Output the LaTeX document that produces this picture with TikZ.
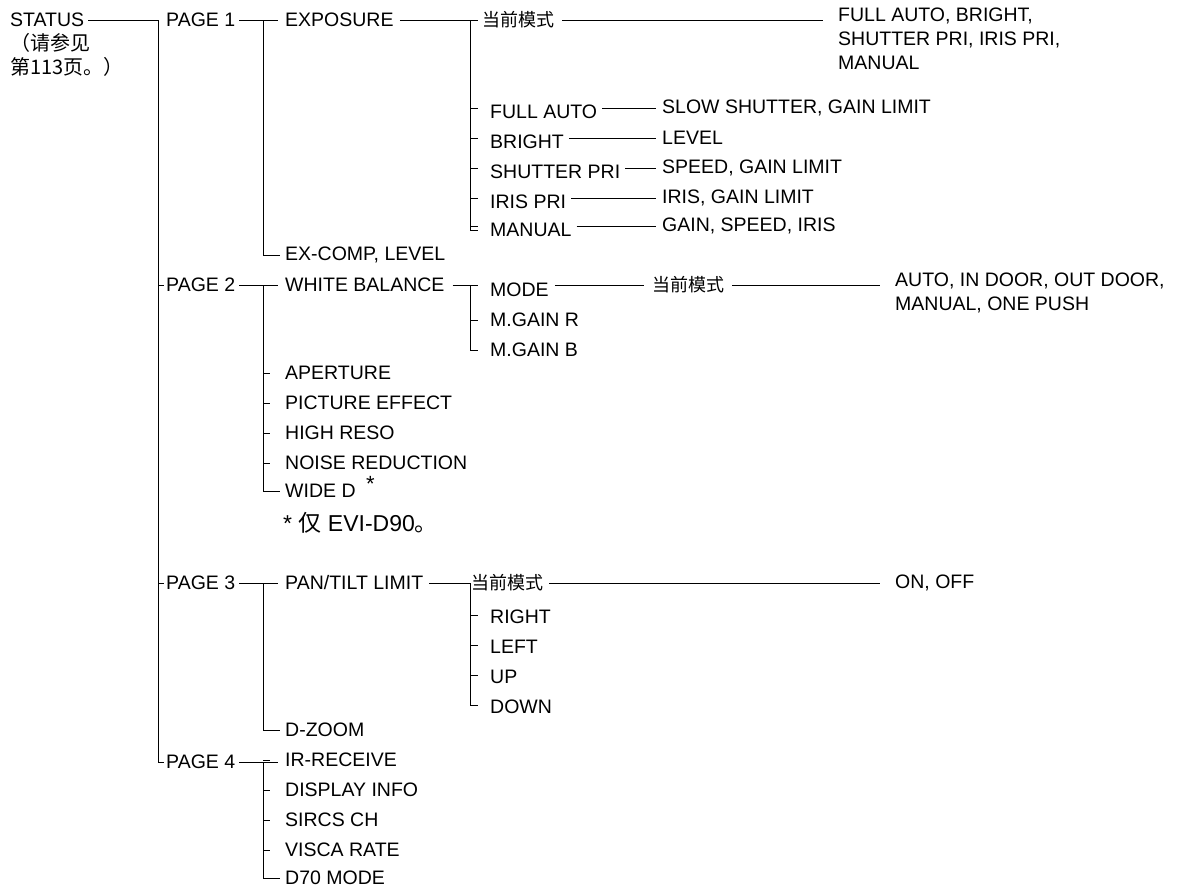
\documentclass[tikz,border=0pt]{standalone}
\usepackage{fontspec}
\setmainfont{Liberation Sans}
\newfontfamily\cjk{Noto Sans CJK SC}
\begin{document}
\begin{tikzpicture}[x=1pt,y=-1pt,
  t/.style={anchor=west,inner sep=0pt,font=\fontsize{19.5}{23}\selectfont},
  c/.style={anchor=west,inner sep=0pt,font=\cjk\fontsize{18}{22}\selectfont},
  ln/.style={line width=1pt}]
\useasboundingbox (0,0) rectangle (1181,892);
% column 0
\node[t] (status) at (10,20) {STATUS};
\node[c,align=left,anchor=north west,font=\cjk\fontsize{20}{24}\selectfont] (ref) at (10,33) {（请参见\\第113页。）};
% pages
\node[t] (p1) at (166,20) {PAGE 1};
\node[t] (p2) at (166,285) {PAGE 2};
\node[t] (p3) at (166,583) {PAGE 3};
\node[t] (p4) at (166,762) {PAGE 4};
\draw[ln] ([xshift=4pt]status.east) -- (158,20) -- (158,762) -- (164,762);
\foreach \y in {285,583}{\draw[ln] (158,\y) -- (164,\y);}
% page 1
\node[t] (exp) at (285,20) {EXPOSURE};
\node[t] (exc) at (285,255) {EX-COMP, LEVEL};
\draw[ln] ([xshift=4pt]p1.east) -- (278,20);
\draw[ln] (263,20) -- (263,255) -- (280,255);
\node[c] (cm1) at (482,20) {当前模式};
\draw[ln] ([xshift=6pt]exp.east) -- (478,20);
\draw[ln] (470,20) -- (470,230) -- (478,230);
\draw[ln] ([xshift=8pt]cm1.east) -- (823,20);
\node[t,align=left,anchor=north west] (fa) at (838,8) {FULL AUTO, BRIGHT,\\[1pt]SHUTTER PRI, IRIS PRI,\\[1pt]MANUAL};
\foreach \n/\l/\y/\r/\ry in {a/FULL AUTO/112/{SLOW SHUTTER, GAIN LIMIT}/108,
  b/BRIGHT/142/LEVEL/138, s/SHUTTER PRI/172/{SPEED, GAIN LIMIT}/168,
  i/IRIS PRI/202/{IRIS, GAIN LIMIT}/198, m/MANUAL/230/{GAIN, SPEED, IRIS}/226}{
  \node[t] (l\n) at (490,\y) {\l};
  \node[t] (r\n) at (662,\ry) {\r};
  \draw[ln] (470,\y-4) -- (478,\y-4);
  \draw[ln] ([xshift=5pt]l\n.east |- r\n.west) -- ([xshift=-6pt]r\n.west);
}
% page 2
\node[t] (wb) at (285,285) {WHITE BALANCE};
\draw[ln] ([xshift=4pt]p2.east) -- (278,285);
\draw[ln] (263,285) -- (263,491) -- (280,491);
\draw[ln] ([xshift=8pt]wb.east) -- (478,285);
\draw[ln] (470,285) -- (470,350) -- (478,350);
\node[t] (mode) at (490,290) {MODE};
\node[c] (cm2) at (652,285) {当前模式};
\node[t,align=left,anchor=north west] (au) at (895,273) {AUTO, IN DOOR, OUT DOOR,\\[1pt]MANUAL, ONE PUSH};
\draw[ln] ([xshift=6pt]mode.east |- cm2.west) -- ([xshift=-8pt]cm2.west);
\draw[ln] ([xshift=8pt]cm2.east) -- (880,285);
\node[t] (mgr) at (490,320) {M.GAIN R};
\node[t] (mgb) at (490,350) {M.GAIN B};
\draw[ln] (470,320) -- (478,320);
\foreach \n/\l/\y in {ap/APERTURE/373,pe/PICTURE EFFECT/403,hr/HIGH RESO/433,nr/NOISE REDUCTION/463}{
  \node[t] (\n) at (285,\y) {\l};
  \draw[ln] (263,\y) -- (270,\y);
}
\node[t] (wd) at (285,491) {WIDE D};
\node[t,font=\fontsize{22}{24}\selectfont] (ast) at (366,484) {*};
\node[t,font=\fontsize{23}{26}\selectfont] (note) at (283,523) {* {\cjk 仅} EVI-D90{\cjk 。}};
% page 3
\node[t] (pt) at (285,583) {PAN/TILT LIMIT};
\draw[ln] (263,583) -- (263,730) -- (280,730);
\draw[ln] ([xshift=4pt]p3.east) -- (278,583);
\node[t] (dz) at (285,730) {D-ZOOM};
\node[c] (cm3) at (471,583) {当前模式};
\draw[ln] ([xshift=6pt]pt.east) -- (471,583);
\draw[ln] (470,583) -- (470,705) -- (478,705);
\draw[ln] ([xshift=6pt]cm3.east) -- (880,583);
\node[t] (on) at (895,583) {ON, OFF};
\foreach \n/\l/\y in {ri/RIGHT/617,le/LEFT/647,up/UP/677,dn/DOWN/707}{
  \node[t] (\n) at (490,\y) {\l};
  \draw[ln] (470,\y-2) -- (478,\y-2);
}
% page 4
\draw[ln] ([xshift=4pt]p4.east) -- (278,762);
\draw[ln] (263,762) -- (263,878) -- (280,878);
\foreach \n/\l/\y in {ir/IR-RECEIVE/760,di/DISPLAY INFO/790,sc/SIRCS CH/820,vr/VISCA RATE/850,d7/D70 MODE/878}{
  \node[t] (\n) at (285,\y) {\l};
  \draw[ln] (263,\y) -- (270,\y);
}
\end{tikzpicture}
\end{document}
